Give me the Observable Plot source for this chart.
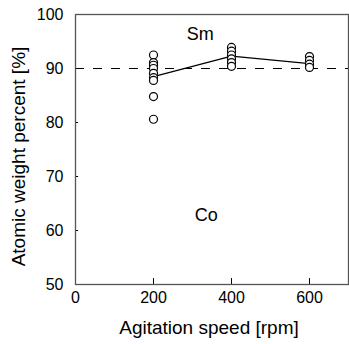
<!DOCTYPE html>
<html><head><meta charset="utf-8">
<script src="https://cdn.jsdelivr.net/npm/d3@7"></script>
<script src="https://cdn.jsdelivr.net/npm/@observablehq/plot@0.6"></script>
<style>body{margin:0;background:#fff;font-family:"Liberation Sans",Arial,sans-serif;}</style>
</head><body><div id="chart"></div>
<script>
const speeds = [200, 400, 600];
const points200 = [92.5, 91.1, 90.6, 90.0, 89.1, 88.3, 87.8, 84.8, 80.6];
const points400 = [93.9, 93.2, 92.5, 91.8, 91.1, 90.4];
const points600 = [92.2, 91.5, 90.8, 90.2];
const meanValues = [88.5, 92.3, 90.9];
const xTicks = [0, 200, 400, 600];
const yTicks = [50, 60, 70, 80, 90, 100];
const refLevel = 90;
const labels = [{text: "Sm", x: 320, y: 96.3}, {text: "Co", x: 335, y: 62.8}];

const pts = [
  ...points200.map(v => ({x: 200, y: v})),
  ...points400.map(v => ({x: 400, y: v})),
  ...points600.map(v => ({x: 600, y: v}))
];
const means = speeds.map((s, i) => ({x: s, y: meanValues[i]}));

const plot = Plot.plot({
  width: 349, height: 344,
  marginLeft: 75, marginRight: 1, marginTop: 14, marginBottom: 60,
  style: {fontFamily: "'Liberation Sans', Arial, sans-serif", background: "#fff"},
  x: {domain: [0, 700], ticks: xTicks},
  y: {domain: [50, 100], ticks: yTicks},
  marks: [
    Plot.axisX({ticks: xTicks, tickSize: 0, tickPadding: 7, fontSize: 16, label: null, color: "#000"}),
    Plot.axisY({ticks: yTicks, tickSize: 0, tickPadding: 12, fontSize: 16, label: null, color: "#000"}),
    Plot.ruleX(xTicks.slice(1), {x: d => d, y1: 50, y2: 51.1, stroke: "#000", strokeWidth: 1}),
    Plot.ruleY(yTicks.slice(1, -1), {y: d => d, x1: 0, x2: 8, stroke: "#000", strokeWidth: 1}),
    Plot.ruleY([refLevel], {stroke: "#000", strokeDasharray: "9,9", strokeWidth: 1}),
    Plot.line(means, {x: "x", y: "y", stroke: "#000", strokeWidth: 1.3}),
    Plot.dot(pts, {x: "x", y: "y", r: 4, stroke: "#000", strokeWidth: 1.2, fill: "#fff"}),
    Plot.text(labels, {x: "x", y: "y", text: "text", fontSize: 18, fill: "#000"}),
    Plot.frame({stroke: "#555", strokeWidth: 1.3}),
    Plot.text(["Agitation speed [rpm]"], {frameAnchor: "bottom", lineAnchor: "middle", dx: -3, dy: 43, fontSize: 19, fill: "#000"}),
    Plot.text(["Atomic weight percent [%]"], {frameAnchor: "left", textAnchor: "middle", lineAnchor: "middle", dx: -57, dy: 7, rotate: -90, fontSize: 19, fill: "#000"})
  ]
});
document.getElementById("chart").append(plot);
</script></body></html>
